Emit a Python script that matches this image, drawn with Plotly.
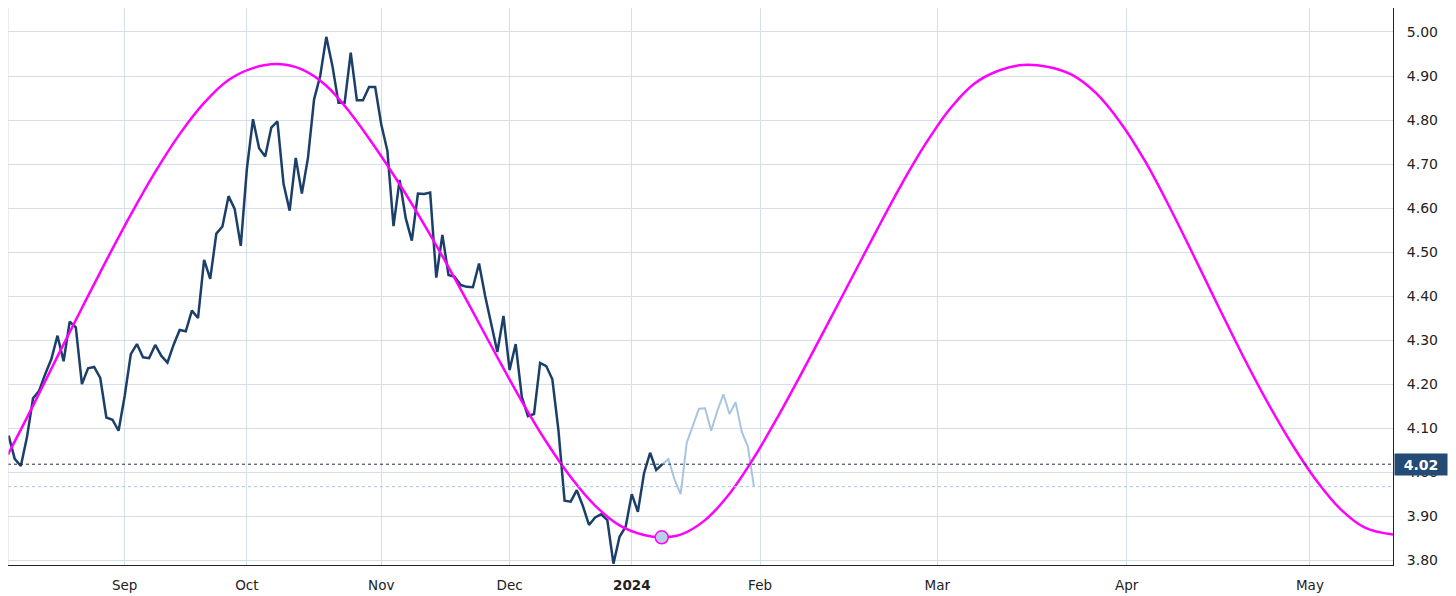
import plotly.graph_objects as go

# x is a session index: 0 = first session of Sep 2023 (past = trading days, future = calendar days)
hist_x = list(range(-19, 89))
hist_y = [
    4.083, 4.03, 4.014, 4.079, 4.168, 4.185, 4.223, 4.257, 4.31, 4.252,
    4.342, 4.329, 4.20, 4.236, 4.239, 4.214, 4.124, 4.119, 4.094, 4.173,
    4.268, 4.291, 4.261, 4.259, 4.289, 4.264, 4.249, 4.289, 4.323, 4.320,
    4.367, 4.35, 4.482, 4.439, 4.542, 4.558, 4.627, 4.598, 4.514, 4.689,
    4.802, 4.736, 4.717, 4.783, 4.797, 4.655, 4.594, 4.714, 4.633, 4.714,
    4.847, 4.90, 4.989, 4.923, 4.839, 4.839, 4.953, 4.845, 4.845, 4.875,
    4.875, 4.79, 4.73, 4.559, 4.664, 4.577, 4.526, 4.633, 4.632, 4.635,
    4.442, 4.539, 4.448, 4.444, 4.425, 4.421, 4.42, 4.474, 4.40, 4.338,
    4.273, 4.355, 4.232, 4.291, 4.171, 4.127, 4.132, 4.248, 4.241, 4.211,
    4.095, 3.935, 3.933, 3.959, 3.923, 3.88, 3.897, 3.904, 3.891, 3.792,
    3.853, 3.876, 3.95, 3.91, 3.997, 4.044, 4.005, 4.018,
]

# lighter continuation after the last dark point
proj_x = list(range(88, 104))
proj_y = [
    4.018, 4.03, 3.983, 3.95, 4.067, 4.104, 4.144, 4.145,
    4.094, 4.139, 4.177, 4.132, 4.159, 4.092, 4.058, 3.967,
]

# cycle curve, every 4 sessions
cycle_x = [
    -19.1, -15, -11, -7, -3, 1, 5, 9, 13, 17, 21, 25, 29, 33, 37, 41, 45, 49,
    53, 57, 61, 65, 69, 73, 77, 81, 85, 88, 91, 95, 99, 103, 107, 111, 115,
    119, 123, 127, 131, 135, 139, 143, 147, 151, 155, 159, 163, 167, 171,
    175, 179, 183, 187, 191, 195, 199, 203, 207.6,
]
cycle_y = [
    4.040, 4.151, 4.263, 4.373, 4.481, 4.585, 4.682, 4.768, 4.839, 4.891,
    4.918, 4.927, 4.915, 4.878, 4.815, 4.738, 4.654, 4.563, 4.466, 4.364,
    4.261, 4.161, 4.069, 3.989, 3.924, 3.879, 3.857, 3.852, 3.858, 3.891,
    3.951, 4.033, 4.128, 4.230, 4.335, 4.441, 4.547, 4.650, 4.744, 4.824,
    4.882, 4.912, 4.925, 4.921, 4.903, 4.861, 4.794, 4.707, 4.603, 4.491,
    4.377, 4.265, 4.160, 4.065, 3.982, 3.916, 3.874, 3.858,
]

low_x = [87.9]
low_y = [3.852]

month_pos = [0, 20, 42, 63, 83, 104, 133, 164, 194]
month_lbl = ["Sep", "Oct", "Nov", "Dec", "<b>2024</b>", "Feb", "Mar", "Apr", "May"]
price_ticks = [3.8, 3.9, 4.0, 4.1, 4.2, 4.3, 4.4, 4.5, 4.6, 4.7, 4.8, 4.9, 5.0]

grid = "#d3dfeb"

fig = go.Figure()
fig.add_trace(go.Scatter(x=proj_x, y=proj_y, mode="lines",
                         line=dict(color="#a8c4e2", width=2)))
fig.add_trace(go.Scatter(x=hist_x, y=hist_y, mode="lines",
                         line=dict(color="#1b3f68", width=2.5)))
fig.add_trace(go.Scatter(x=cycle_x, y=cycle_y, mode="lines",
                         line=dict(color="#ff00ff", width=2.5, shape="spline")))
fig.add_trace(go.Scatter(x=low_x, y=low_y, mode="markers",
                         marker=dict(size=13, color="#b9cfe6",
                                     line=dict(color="#ff00ff", width=1.5))))

fig.add_hline(y=hist_y[-1], line_dash="dot", line_color="#1b2f4a", line_width=1)
fig.add_hline(y=proj_y[-1], line_dash="dot", line_color="#a8c4e2", line_width=1)
fig.add_vline(x=cycle_x[0], line_color="#dcdcdc", line_width=1)

fig.add_annotation(
    x=1, xref="paper", xanchor="left", xshift=1,
    y=hist_y[-1], yref="y",
    text=f"<b>{hist_y[-1]:.2f}</b>", showarrow=False,
    font=dict(color="white", size=14), bgcolor="#234b74",
    width=48, height=17, borderpad=2,
)

# the page body keeps its default 8px margin; the figure runs to the bottom of the window
fig.update_layout(
    width=1440,
    height=588,
    margin=dict(l=0, r=55, t=0, b=31),
    plot_bgcolor="white",
    paper_bgcolor="white",
    showlegend=False,
    font=dict(family="DejaVu Sans", size=13.5, color="#222"),
)
fig.update_xaxes(
    range=[-19.1, 207.6], tickvals=month_pos, ticktext=month_lbl,
    showgrid=True, gridcolor=grid, zeroline=False,
    showline=True, linecolor="#222", linewidth=1,
    ticks="outside", ticklen=8, tickcolor="rgba(0,0,0,0)",
)
fig.update_yaxes(
    side="right", range=[3.789, 5.0545], tickvals=price_ticks, tickformat=".2f",
    showgrid=True, gridcolor=grid, zeroline=False,
    showline=True, linecolor="#222", linewidth=1,
    ticks="outside", ticklen=10, tickcolor="rgba(0,0,0,0)",
    tickfont=dict(size=14),
)

fig.write_html("out.html")
